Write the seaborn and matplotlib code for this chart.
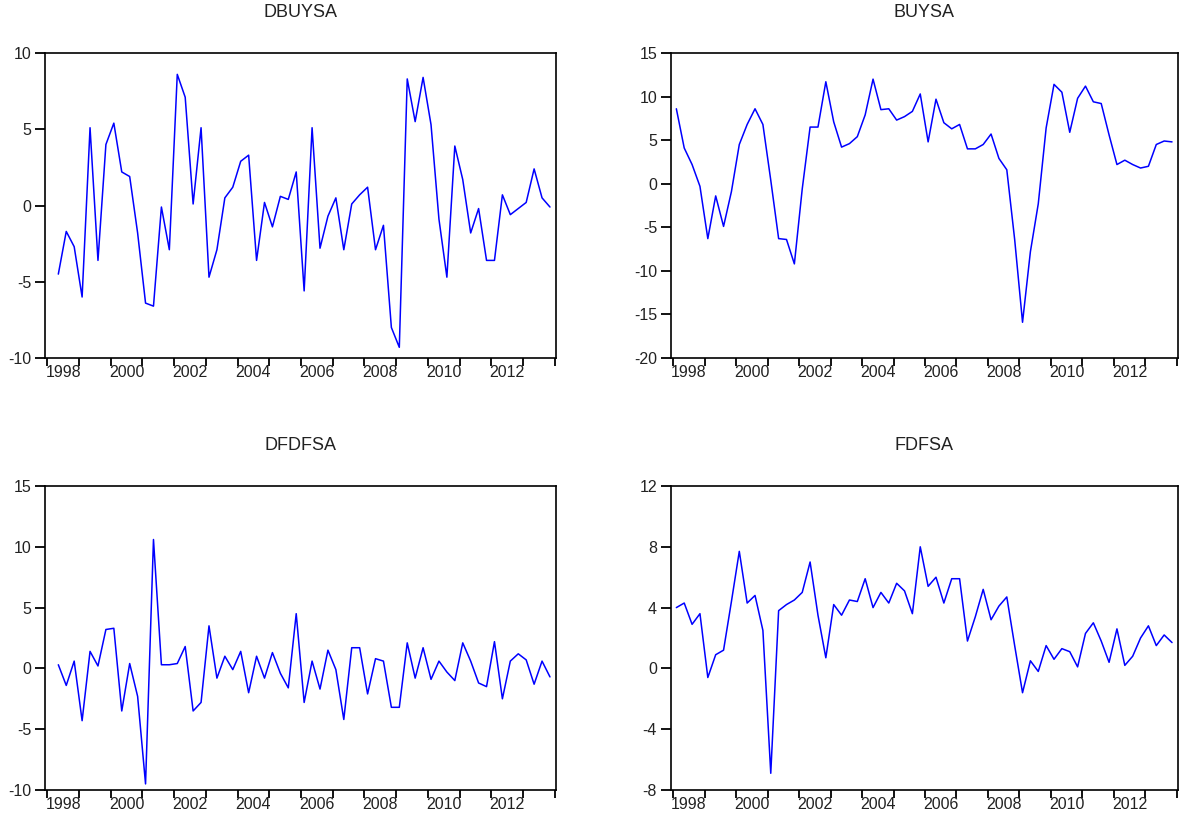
import numpy as np
import pandas as pd
import matplotlib
matplotlib.use("Agg")
import matplotlib.pyplot as plt
import seaborn as sns

# ---- data (quarterly) ----
# DBUYSA and DFDFSA start 1998Q2, BUYSA and FDFSA start 1998Q1; all end 2013Q4
dbuysa = [-4.5, -1.7, -2.7, -6.0, 5.1, -3.6, 4.0, 5.4, 2.2, 1.9,
          -1.8, -6.4, -6.6, -0.1, -2.9, 8.6, 7.1, 0.1, 5.1, -4.7,
          -2.9, 0.5, 1.2, 2.9, 3.3, -3.6, 0.2, -1.4, 0.6, 0.4,
          2.2, -5.6, 5.1, -2.8, -0.7, 0.5, -2.9, 0.1, 0.7, 1.2,
          -2.9, -1.3, -8.0, -9.3, 8.3, 5.5, 8.4, 5.3, -0.9, -4.7,
          3.9, 1.7, -1.8, -0.2, -3.6, -3.6, 0.7, -0.6, -0.2, 0.2,
          2.4, 0.5, -0.1]
buysa = [8.6, 4.1, 2.2, -0.3, -6.3, -1.4, -4.9, -0.9, 4.5, 6.8,
         8.6, 6.8, 0.4, -6.3, -6.4, -9.2, -0.6, 6.5, 6.5, 11.7,
         7.1, 4.2, 4.6, 5.4, 7.9, 12.0, 8.5, 8.6, 7.3, 7.7,
         8.3, 10.3, 4.8, 9.7, 7.0, 6.3, 6.8, 4.0, 4.0, 4.5,
         5.7, 2.9, 1.6, -6.4, -15.9, -7.8, -2.3, 6.4, 11.4, 10.5,
         5.9, 9.8, 11.2, 9.4, 9.2, 5.6, 2.2, 2.7, 2.2, 1.8,
         2.0, 4.5, 4.9, 4.8]
dfdfsa = [0.3, -1.4, 0.6, -4.3, 1.4, 0.2, 3.2, 3.3, -3.5, 0.4,
          -2.3, -9.5, 10.6, 0.3, 0.3, 0.4, 1.8, -3.5, -2.8, 3.5,
          -0.8, 1.0, -0.1, 1.4, -2.0, 1.0, -0.8, 1.3, -0.4, -1.6,
          4.5, -2.8, 0.6, -1.7, 1.5, -0.1, -4.2, 1.7, 1.7, -2.1,
          0.8, 0.6, -3.2, -3.2, 2.1, -0.8, 1.7, -0.9, 0.6, -0.3,
          -1.0, 2.1, 0.6, -1.2, -1.5, 2.2, -2.5, 0.6, 1.2, 0.7,
          -1.3, 0.6, -0.7]
fdfsa = [4.0, 4.3, 2.9, 3.6, -0.6, 0.9, 1.2, 4.4, 7.7, 4.3,
         4.8, 2.5, -6.9, 3.8, 4.2, 4.5, 5.0, 7.0, 3.5, 0.7,
         4.2, 3.5, 4.5, 4.4, 5.9, 4.0, 5.0, 4.3, 5.6, 5.1,
         3.6, 8.0, 5.4, 6.0, 4.3, 5.9, 5.9, 1.8, 3.4, 5.2,
         3.2, 4.1, 4.7, 1.5, -1.6, 0.5, -0.2, 1.5, 0.6, 1.3,
         1.1, 0.1, 2.3, 3.0, 1.8, 0.4, 2.6, 0.2, 0.8, 2.0,
         2.8, 1.5, 2.2, 1.7]

titles = ["DBUYSA", "BUYSA", "DFDFSA", "FDFSA"]
series = [dbuysa, buysa, dfdfsa, fdfsa]
start_q = [1, 0, 1, 0]           # quarter offset from 1998Q1
ylims = [(-10, 10), (-20, 15), (-10, 15), (-8, 12)]
ysteps = [5, 5, 5, 4]
year_labels = list(range(1998, 2013, 2))

# ---- style ----
sns.set_theme(style="ticks")
plt.rcParams["font.family"] = ["Liberation Sans", "DejaVu Sans"]
plt.rcParams["axes.unicode_minus"] = False

W, H = 1187, 825
fig = plt.figure(figsize=(W / 100, H / 100), dpi=100)

# axes boxes in pixels: (left, top, right, bottom)
boxes = [(45, 53, 556, 358), (671, 53, 1178, 358),
         (45, 486, 556, 790), (671, 486, 1178, 790)]

for k in range(4):
    l, t, r, b = boxes[k]
    ax = fig.add_axes([l / W, 1 - b / H, (r - l) / W, (b - t) / H])
    vals = series[k]
    q = np.arange(len(vals)) + start_q[k]
    df = pd.DataFrame({"x": 1998 + (q + 0.4) / 4.0, "y": vals})
    sns.lineplot(data=df, x="x", y="y", ax=ax, color="#0000FF",
                 linewidth=1.1, estimator=None, sort=False)
    ax.set_xlim(1997.93, 2014.04)
    lo, hi = ylims[k]
    ax.set_ylim(lo, hi)
    ax.set_yticks(np.arange(lo, hi + 0.1, ysteps[k]))
    ax.set_yticklabels([str(int(v)) for v in np.arange(lo, hi + 0.1, ysteps[k])])
    # annual ticks (major, no label), labels centred mid-year every 2 years (minor)
    ax.set_xticks(np.arange(1998, 2015, 1))
    ax.set_xticklabels([])
    ax.set_xticks([y + 0.5 for y in year_labels], minor=True)
    ax.set_xticklabels([str(y) for y in year_labels], minor=True)
    ax.tick_params(axis="x", which="major", direction="out", length=6,
                   width=1.3, color="black")
    ax.tick_params(axis="x", which="minor", length=0, pad=5,
                   labelsize=11.5, labelcolor="#222222")
    ax.tick_params(axis="y", which="major", direction="out", length=7,
                   width=1.3, color="black", pad=3, labelsize=11.5,
                   labelcolor="#222222", right=False)
    for s in ax.spines.values():
        s.set_visible(True)
        s.set_color("black")
        s.set_linewidth(1.2)
    ax.set_xlabel("")
    ax.set_ylabel("")
    ax.set_facecolor("white")
    ax.set_title(titles[k], fontsize=13, pad=26, color="#222222")

fig.savefig("out.png", dpi=100, facecolor="white")
